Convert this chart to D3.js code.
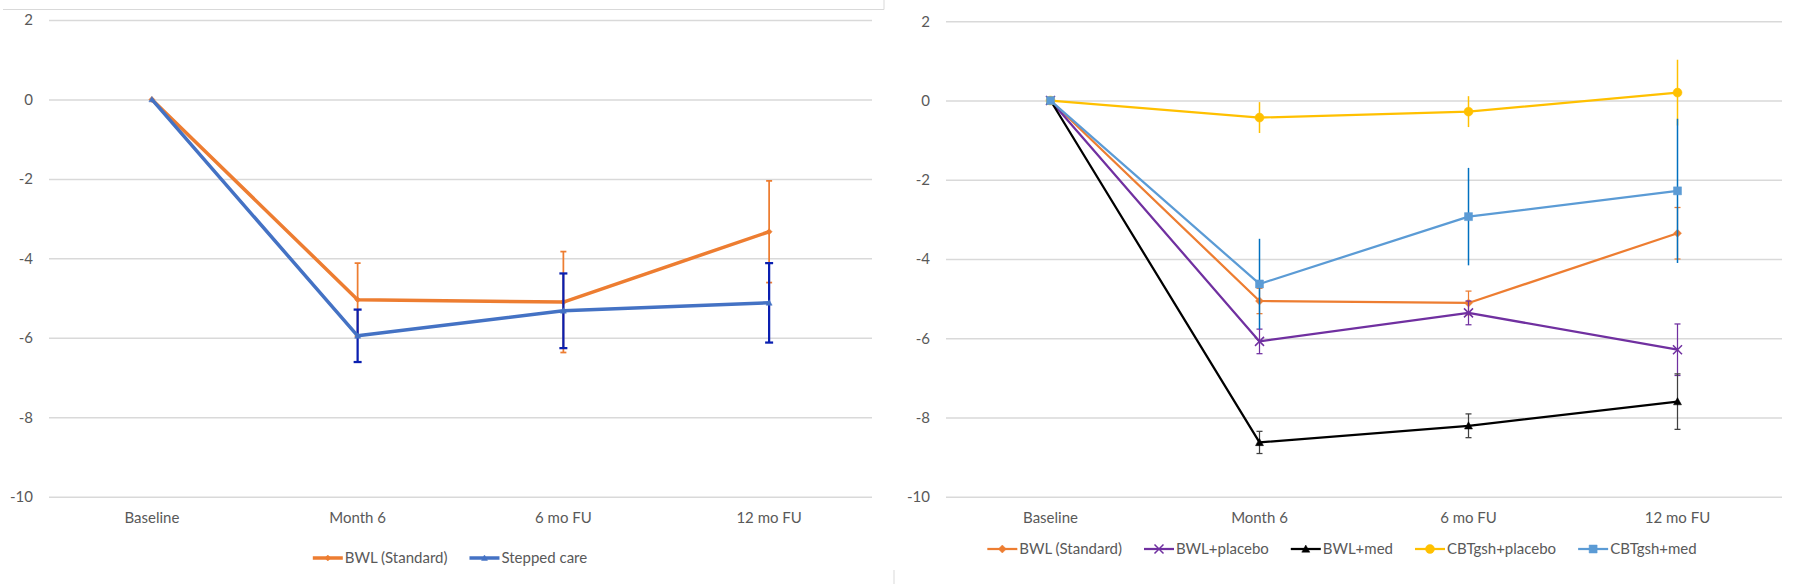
<!DOCTYPE html>
<html>
<head>
<meta charset="utf-8">
<script src="https://cdn.jsdelivr.net/npm/d3@7/dist/d3.min.js"></script>
<style>
  html, body { margin: 0; padding: 0; background: #fff; }
  svg { display: block; }
  text { font-family: Lato, "Open Sans", sans-serif; fill: #595959; }
</style>
</head>
<body>
<svg id="chart" width="1800" height="584"></svg>
<script>
// ---------- DATA ----------
const categories = ["Baseline", "Month 6", "6 mo FU", "12 mo FU"];
const yTicks = [2, 0, -2, -4, -6, -8, -10];

// Left chart
const leftBwlStandard    = [0, -5.04, -5.10, -3.33];
const leftBwlStandardErr = [0, 0.92, 1.27, 1.28];
const leftStepped        = [0, -5.95, -5.32, -5.12];
const leftSteppedErr     = [0, 0.66, 0.94, 1.00];

// Right chart
const rightBwlStandard    = [0, -5.06, -5.11, -3.35];
const rightBwlStandardErr = [0, 0.32, 0.30, 0.65];
const bwlPlacebo          = [0, -6.08, -5.36, -6.29];
const bwlPlaceboErr       = [0, 0.31, 0.30, 0.65];
const bwlMed              = [0, -8.63, -8.21, -7.60];
const bwlMedErr           = [0, 0.28, 0.30, 0.70];
const cbtPlacebo          = [0, -0.43, -0.28, 0.20];
const cbtPlaceboErr       = [0, 0.39, 0.39, 0.83];
const cbtMed              = [0, -4.63, -2.93, -2.28];
const cbtMedErr           = [0, 1.14, 1.23, 1.82];

// ---------- DRAWING ----------
const svg = d3.select("#chart");

// faint frame fragments
svg.append("line").attr("x1", 3).attr("x2", 884).attr("y1", 9.5).attr("y2", 9.5)
  .attr("stroke", "#d9d9d9").attr("stroke-width", 1);
svg.append("line").attr("x1", 884).attr("x2", 884).attr("y1", 0).attr("y2", 9.5)
  .attr("stroke", "#d9d9d9").attr("stroke-width", 1);
svg.append("line").attr("x1", 894).attr("x2", 894).attr("y1", 570).attr("y2", 584)
  .attr("stroke", "#d9d9d9").attr("stroke-width", 1);

function markerPath(type, size) {
  const s = size;
  switch (type) {
    case "diamond": return `M0,${-s}L${s},0L0,${s}L${-s},0Z`;
    case "triangle": return `M0,${-s}L${s},${s * 0.8}L${-s},${s * 0.8}Z`;
    case "square": return `M${-s},${-s}H${s}V${s}H${-s}Z`;
    case "x": return `M${-s},${-s}L${s},${s}M${s},${-s}L${-s},${s}`;
    case "circle": return d3.symbol(d3.symbolCircle, Math.PI * s * s)();
  }
  return "";
}

function drawMarker(g, type, x, y, size, color) {
  const p = g.append("path").attr("d", markerPath(type, size))
    .attr("transform", `translate(${x},${y})`);
  if (type === "x") p.attr("fill", "none").attr("stroke", color).attr("stroke-width", 1.5);
  else p.attr("fill", color).attr("stroke", color).attr("stroke-width", 0.5);
}

function drawChart(cfg) {
  const g = svg.append("g");
  const x = d3.scaleBand().domain(categories).range([cfg.x0, cfg.x1]).padding(0);
  const y = d3.scaleLinear().domain([-10, 2]).range([cfg.yBottom, cfg.yTop]);
  const cx = c => x(c) + x.bandwidth() / 2;
  const w = cfg.x1 - cfg.x0;

  // y axis with gridlines
  const ya = g.append("g").attr("transform", `translate(${cfg.x0},0)`)
    .call(d3.axisLeft(y).tickValues(yTicks).tickSize(-w).tickPadding(16)
      .tickFormat(d => d < 0 ? "-" + Math.abs(d) : String(d)));
  ya.select(".domain").remove();
  ya.selectAll(".tick line").attr("stroke", "#d9d9d9").attr("stroke-width", 1.5);
  ya.selectAll(".tick text").attr("font-size", 15).attr("fill", "#595959")
    .attr("font-family", "Lato, sans-serif");

  // x axis labels
  const xa = g.append("g").attr("transform", `translate(0,${cfg.yBottom})`)
    .call(d3.axisBottom(x).tickSize(0).tickPadding(16));
  xa.select(".domain").remove();
  xa.selectAll(".tick text").attr("font-size", 15).attr("fill", "#595959")
    .attr("font-family", "Lato, sans-serif");

  const line = d3.line().x((d, i) => cx(categories[i])).y(d => y(d));

  cfg.series.forEach(s => {
    const sg = g.append("g");
    // error bars
    s.values.forEach((v, i) => {
      const e = s.err[i];
      if (!e) return;
      const px = cx(categories[i]);
      sg.append("line").attr("x1", px).attr("x2", px)
        .attr("y1", y(v + e)).attr("y2", y(v - e))
        .attr("stroke", s.errColor).attr("stroke-width", s.errWidth);
      if (s.cap) {
        [v + e, v - e].forEach(t => {
          sg.append("line").attr("x1", px - s.cap).attr("x2", px + s.cap)
            .attr("y1", y(t)).attr("y2", y(t))
            .attr("stroke", s.errColor).attr("stroke-width", s.errWidth);
        });
      }
    });
    sg.append("path").datum(s.values).attr("d", line)
      .attr("fill", "none").attr("stroke", s.color).attr("stroke-width", s.width)
      .attr("stroke-linejoin", "round");
    s.values.forEach((v, i) => drawMarker(sg, s.marker, cx(categories[i]), y(v), s.msize, s.color));
  });

  // legend
  const lg = g.append("g").attr("transform", `translate(0,${cfg.legendY})`);
  const items = cfg.series.map(s => {
    const it = lg.append("g");
    it.append("line").attr("x1", 0).attr("x2", 30).attr("y1", 0).attr("y2", 0)
      .attr("stroke", s.color).attr("stroke-width", s.width);
    drawMarker(it, s.marker, 15, 0, s.msize, s.color);
    const t = it.append("text").attr("x", 32).attr("y", 5).attr("font-size", 15)
      .attr("fill", "#595959").text(s.name);
    return { it, w: 32 + t.node().getComputedTextLength() };
  });
  const gap = 22;
  const total = d3.sum(items, d => d.w) + gap * (items.length - 1);
  let lx = cfg.legendCx - total / 2;
  items.forEach(d => { d.it.attr("transform", `translate(${lx},0)`); lx += d.w + gap; });
}

drawChart({
  x0: 49, x1: 872, yTop: 20, yBottom: 496.7, legendY: 558, legendCx: 450,
  series: [
    { name: "BWL (Standard)", values: leftBwlStandard, err: leftBwlStandardErr,
      color: "#ED7D31", width: 3.5, errColor: "#ED7D31", errWidth: 1.75, cap: 3,
      marker: "diamond", msize: 3 },
    { name: "Stepped care", values: leftStepped, err: leftSteppedErr,
      color: "#4472C4", width: 3.5, errColor: "#0A1FB0", errWidth: 2.25, cap: 4,
      marker: "triangle", msize: 3 }
  ]
});

drawChart({
  x0: 946, x1: 1782, yTop: 21.3, yBottom: 496.7, legendY: 549, legendCx: 1342,
  series: [
    { name: "BWL (Standard)", values: rightBwlStandard, err: rightBwlStandardErr,
      color: "#ED7D31", width: 2.25, errColor: "#ED7D31", errWidth: 1.25, cap: 3,
      marker: "diamond", msize: 4 },
    { name: "BWL+placebo", values: bwlPlacebo, err: bwlPlaceboErr,
      color: "#7030A0", width: 2.25, errColor: "#7030A0", errWidth: 1.25, cap: 3,
      marker: "x", msize: 4.5 },
    { name: "BWL+med", values: bwlMed, err: bwlMedErr,
      color: "#000000", width: 2.25, errColor: "#404040", errWidth: 1.25, cap: 3,
      marker: "triangle", msize: 4 },
    { name: "CBTgsh+placebo", values: cbtPlacebo, err: cbtPlaceboErr,
      color: "#FFC000", width: 2.25, errColor: "#FFC000", errWidth: 1.5, cap: 0,
      marker: "circle", msize: 4.5 },
    { name: "CBTgsh+med", values: cbtMed, err: cbtMedErr,
      color: "#5B9BD5", width: 2.25, errColor: "#0070C0", errWidth: 1.5, cap: 0,
      marker: "square", msize: 4 }
  ]
});
</script>
</body>
</html>
